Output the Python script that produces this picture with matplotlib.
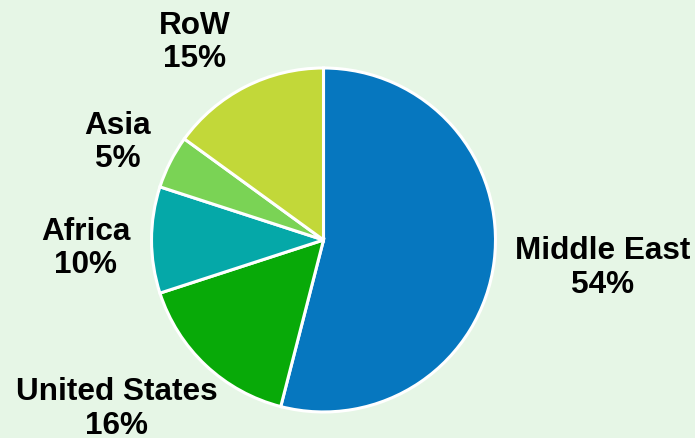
import matplotlib.pyplot as plt

# Share of supply by region (%)
regions = ['Middle East', 'United States', 'Africa', 'Asia', 'RoW']
shares = [54, 16, 10, 5, 15]
colors = ['#0677BF', '#08AA08', '#05A8A8', '#7AD355', '#C2D839']

# label centres, in pie-radius units
label_x = [1.625, -1.203, -1.381, -1.195, -0.747]
label_y = [-0.162, -0.982, -0.050, 0.566, 1.148]

bg = '#E6F6E6'
fig = plt.figure(figsize=(6.95, 4.38), dpi=100, facecolor=bg)
ax = fig.add_axes([0, 0, 1, 1])
ax.set_facecolor(bg)

ax.pie(shares, colors=colors, startangle=90, counterclock=False,
       radius=1, center=(0, 0),
       wedgeprops=dict(edgecolor='white', linewidth=2.2))

for name, val, x, y in zip(regions, shares, label_x, label_y):
    ax.text(x, y, f'{name}\n{val}%', ha='center', va='center',
            fontsize=22.7, fontweight='bold', family='Liberation Sans',
            linespacing=1.16, color='black')

ax.set_xlim(-1.881, 2.160)
ax.set_ylim(-1.151, 1.395)
ax.set_aspect('equal')
ax.axis('off')

fig.savefig('out.png', dpi=100, facecolor=bg)
